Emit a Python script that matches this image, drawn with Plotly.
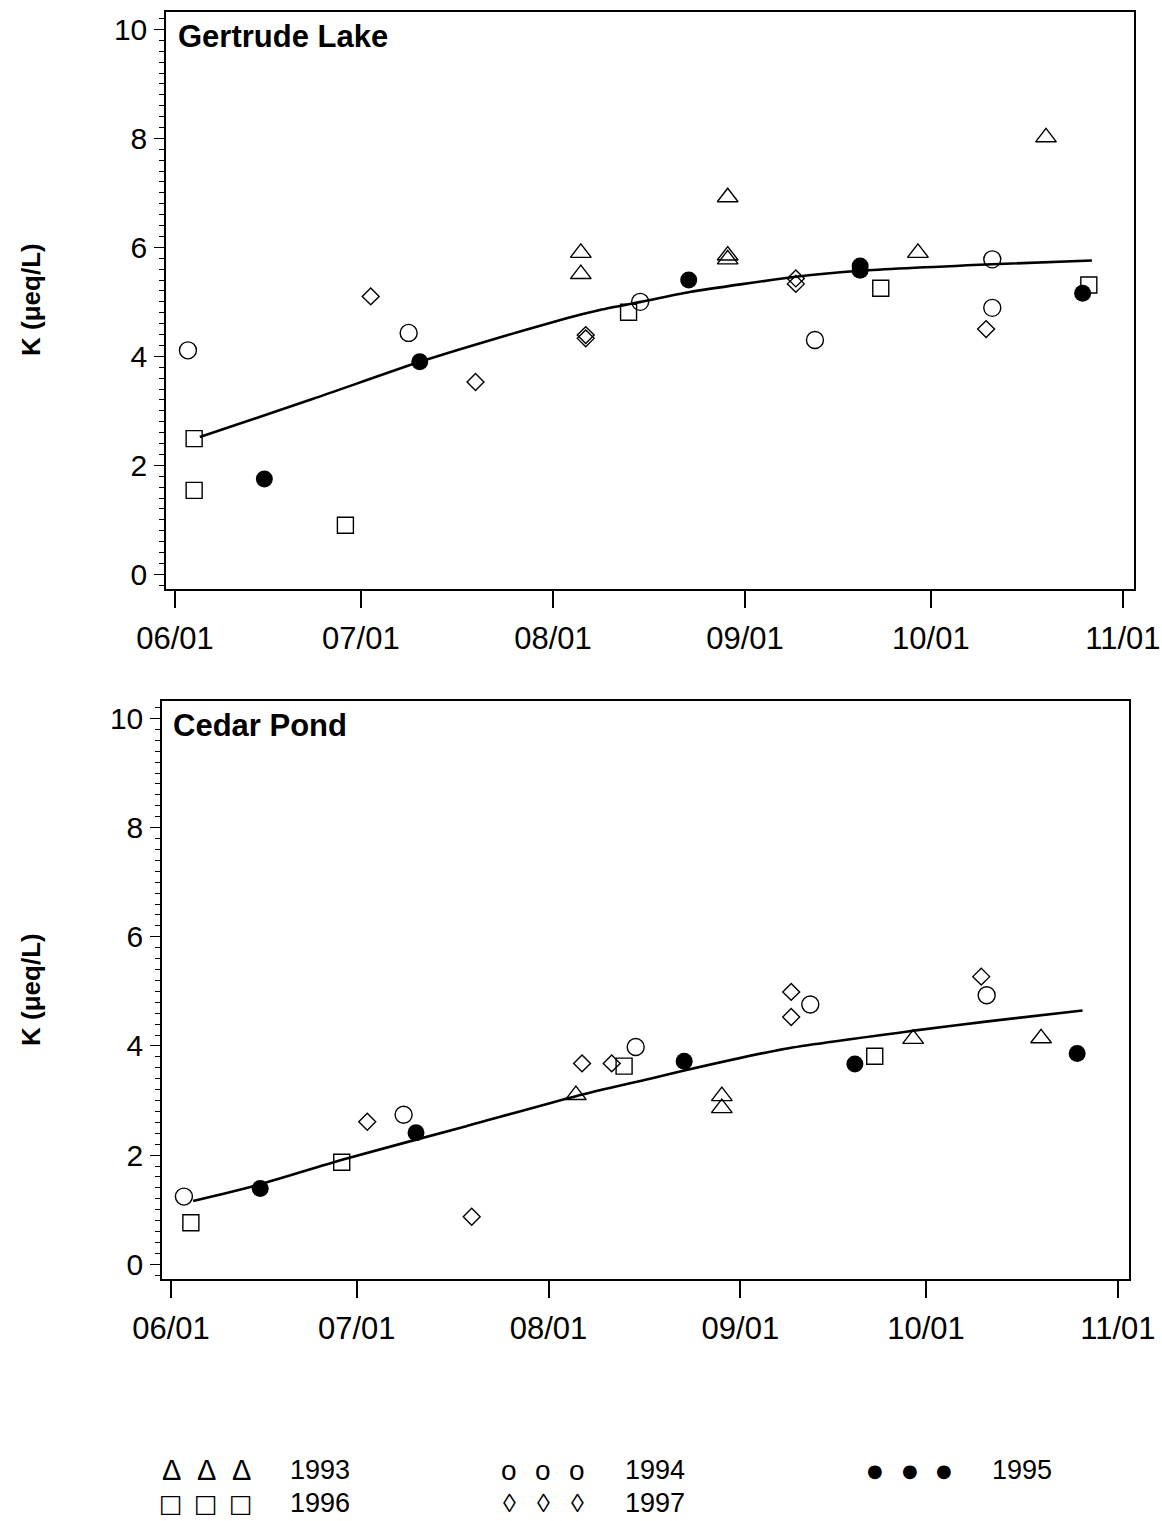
import plotly.graph_objects as go

YEAR = "2001"

# ---------------- Gertrude Lake ----------------
gl_1993_dates = ["08-05 12:00", "08-05 12:00", "08-29 05:00", "08-29 05:00", "08-29 05:00", "09-28 22:00", "10-19 14:00"]
gl_1993_k = [5.90, 5.51, 6.92, 5.85, 5.78, 5.90, 8.02]
gl_1994_dates = ["06-03 02:00", "07-08 17:00", "08-15 02:00", "09-12 07:00", "10-10 22:00", "10-10 22:00"]
gl_1994_k = [4.11, 4.43, 5.00, 4.30, 5.78, 4.89]
gl_1995_dates = ["06-15 10:00", "07-10 12:00", "08-22 22:00", "09-19 14:00", "09-19 14:00", "10-25 12:00"]
gl_1995_k = [1.75, 3.90, 5.40, 5.66, 5.58, 5.16]
gl_1996_dates = ["06-04 02:00", "06-04 02:00", "06-28 12:00", "08-13 05:00", "09-22 22:00", "10-26 12:00"]
gl_1996_k = [2.49, 1.54, 0.90, 4.81, 5.25, 5.31]
gl_1997_dates = ["07-02 14:00", "07-19 12:00", "08-06 07:00", "08-06 07:00", "09-09 05:00", "09-09 05:00", "10-09 22:00"]
gl_1997_k = [5.10, 3.53, 4.39, 4.33, 5.43, 5.33, 4.50]
gl_fit_dates = ["06-05 00:00", "06-23 07:00", "07-10 12:00", "07-20 19:00", "08-03 05:00", "08-08 14:00",
                "08-15 05:00", "08-23 02:00", "09-09 05:00", "09-19 14:00", "10-10 22:00", "10-27 00:00"]
gl_fit_k = [2.52, 3.22, 3.90, 4.26, 4.70, 4.85, 5.00, 5.18, 5.46, 5.57, 5.69, 5.76]

# ---------------- Cedar Pond ----------------
cp_1993_dates = ["08-05 10:00", "08-29 00:00", "08-29 00:00", "09-28 22:00", "10-19 14:00"]
cp_1993_k = [3.10, 3.08, 2.86, 4.13, 4.14]
cp_1994_dates = ["06-03 02:00", "07-08 14:00", "08-15 02:00", "09-12 07:00", "10-10 19:00"]
cp_1994_k = [1.24, 2.74, 3.98, 4.76, 4.93]
cp_1995_dates = ["06-15 10:00", "07-10 14:00", "08-22 22:00", "09-19 12:00", "10-25 10:00"]
cp_1995_k = [1.39, 2.41, 3.72, 3.67, 3.86]
cp_1996_dates = ["06-04 05:00", "06-28 14:00", "08-13 05:00", "09-22 17:00"]
cp_1996_k = [0.76, 1.87, 3.63, 3.81]
cp_1997_dates = ["07-02 17:00", "07-19 14:00", "08-06 10:00", "08-11 05:00", "09-09 05:00", "09-09 05:00", "10-09 22:00"]
cp_1997_k = [2.61, 0.87, 3.68, 3.68, 4.99, 4.53, 5.27]
cp_fit_dates = ["06-04 14:00", "06-14 07:00", "06-28 19:00", "07-18 17:00", "08-05 10:00", "08-17 10:00",
                "08-22 22:00", "09-08 07:00", "09-29 00:00", "10-11 00:00", "10-26 07:00"]
cp_fit_k = [1.16, 1.43, 1.92, 2.53, 3.08, 3.40, 3.55, 3.95, 4.28, 4.45, 4.65]

# axis ticks
month_ticks = ["06-01", "07-01", "08-01", "09-01", "10-01", "11-01"]
y_ticks = [0, 2, 4, 6, 8, 10]
years = ["1993", "1994", "1995", "1996", "1997"]
panel_names = ["Gertrude Lake", "Cedar Pond"]
y_title = "K (μeq/L)"


def d(lst):
    return [YEAR + "-" + s for s in lst]


FONT = "Liberation Sans, Arial, sans-serif"
BOLD = "Liberation Sans, Arial, sans-serif"
SYMF = "DejaVu Sans, Liberation Sans, sans-serif"

styles = {
    "1993": dict(symbol="triangle-up-open", size=18, color="black", line=dict(width=1.4, color="black")),
    "1994": dict(symbol="circle-open", size=17, color="black", line=dict(width=1.4, color="black")),
    "1995": dict(symbol="circle", size=17, color="black", line=dict(width=0, color="black")),
    "1996": dict(symbol="square-open", size=16, color="black", line=dict(width=1.4, color="black")),
    "1997": dict(symbol="diamond-open", size=13, color="black", line=dict(width=1.4, color="black")),
}

fig = go.Figure()

panels = [
    ("x", "y", [gl_1993_dates, gl_1994_dates, gl_1995_dates, gl_1996_dates, gl_1997_dates],
     [gl_1993_k, gl_1994_k, gl_1995_k, gl_1996_k, gl_1997_k], gl_fit_dates, gl_fit_k),
    ("x2", "y2", [cp_1993_dates, cp_1994_dates, cp_1995_dates, cp_1996_dates, cp_1997_dates],
     [cp_1993_k, cp_1994_k, cp_1995_k, cp_1996_k, cp_1997_k], cp_fit_dates, cp_fit_k),
]

for xa, ya, dates_list, k_list, fdates, fk in panels:
    fig.add_trace(go.Scatter(x=d(fdates), y=fk, mode="lines", xaxis=xa, yaxis=ya,
                             line=dict(color="black", width=2.6, shape="spline", smoothing=0.6),
                             showlegend=False, hoverinfo="skip"))
    for yr, ds, ks in zip(years, dates_list, k_list):
        fig.add_trace(go.Scatter(x=d(ds), y=ks, mode="markers", xaxis=xa, yaxis=ya,
                                 marker=styles[yr], name=yr, showlegend=False))

W, H = 1162, 1521
xrange_ = [YEAR + "-05-30 13:00", YEAR + "-11-02 19:00"]


def xaxis(dom, anchor):
    return dict(domain=dom, anchor=anchor, type="date", range=xrange_, automargin=False,
                tickmode="array", tickvals=d(month_ticks), tickformat="%m/%d",
                ticks="outside", ticklen=17, tickwidth=1.5, tickcolor="black",
                showline=True, linecolor="black", linewidth=1.5, mirror=True,
                showgrid=False, zeroline=False, ticklabelstandoff=4,
                tickfont=dict(family=FONT, size=31, color="black"))


def yaxis(dom, anchor):
    return dict(domain=dom, anchor=anchor, range=[-0.27, 10.32], automargin=False,
                tickmode="array", tickvals=y_ticks,
                ticks="outside", ticklen=10, tickwidth=1.3, tickcolor="black",
                minor=dict(tickmode="linear", tick0=0, dtick=0.2, ticks="outside",
                           ticklen=5, tickwidth=1, tickcolor="black"),
                showline=True, linecolor="black", linewidth=1.5, mirror=True,
                showgrid=False, zeroline=False, ticklabelstandoff=1,
                tickfont=dict(family=FONT, size=30, color="black"))


fig.update_layout(
    width=W, height=H, autosize=False,
    margin=dict(l=0, r=0, t=0, b=0, autoexpand=False),
    paper_bgcolor="white", plot_bgcolor="white",
    showlegend=False,
    xaxis=xaxis([166 / W, 1134 / W], "y"),
    yaxis=yaxis([1 - 589 / H, 1 - 12 / H], "x"),
    xaxis2=xaxis([162 / W, 1129 / W], "y2"),
    yaxis2=yaxis([1 - 1279 / H, 1 - 701 / H], "x2"),
)

ann = []
# y-axis titles
for yc in (300, 990):
    ann.append(dict(text="<b>" + y_title + "</b>", x=31 / W, y=1 - yc / H, xref="paper", yref="paper",
                    showarrow=False, textangle=-90, xanchor="center", yanchor="middle",
                    font=dict(family=BOLD, size=26, color="black")))
# panel names
for name, (px, py) in zip(panel_names, [(176, 36), (171, 725)]):
    ann.append(dict(text="<b>" + name + "</b>", x=px / W, y=1 - py / H, xref="paper", yref="paper",
                    showarrow=False, xanchor="left", yanchor="middle",
                    font=dict(family=BOLD, size=31, color="black")))

# legend (text symbols)
legend_items = [
    ("1993", "Δ", [171, 206, 241], 288, 1470, 29, FONT),
    ("1994", "o", [509, 543, 577], 623, 1470, 28, FONT),
    ("1995", "●", [875, 910, 944], 990, 1470, 18, SYMF),
    ("1996", "□", [171, 206, 241], 288, 1503, 25, SYMF),
    ("1997", "◊", [509, 543, 577], 623, 1503, 26, FONT),
]
for label, sym, xs, tx, ty, ssize, sfont in legend_items:
    for sx in xs:
        ann.append(dict(text=sym, x=sx / W, y=1 - ty / H, xref="paper", yref="paper", showarrow=False,
                        xanchor="center", yanchor="middle", font=dict(family=sfont, size=ssize, color="black")))
    ann.append(dict(text=label, x=tx / W, y=1 - ty / H, xref="paper", yref="paper", showarrow=False,
                    xanchor="left", yanchor="middle", font=dict(family=FONT, size=27, color="black")))

fig.update_layout(annotations=ann)
fig.write_html("out.html")
